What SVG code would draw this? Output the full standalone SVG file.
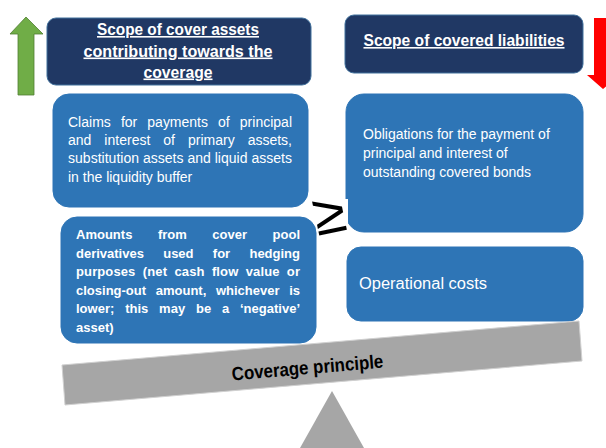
<svg xmlns="http://www.w3.org/2000/svg" width="606" height="448" viewBox="0 0 606 448">
<style>
.hdr{fill:#203864;stroke:#41719C;stroke-width:1}
.box{fill:#2E75B6;stroke:#2E75B6;stroke-width:1}
.ht{font-family:"Liberation Sans",Arial,sans-serif;font-weight:bold;font-size:16px;fill:#fff;text-anchor:middle;text-decoration:underline}
.t{font-family:"Liberation Sans",Arial,sans-serif;font-size:14px;fill:#fff}
.tb{font-family:"Liberation Sans",Arial,sans-serif;font-size:13px;font-weight:bold;fill:#fff}
.gray{fill:#A6A6A6}
</style>
<rect width="606" height="448" fill="#fff"/>
<g id="arrows">
<polygon points="26,17 43,34 34,34 34,95 18,95 18,34 10,34" fill="#70AD47" stroke="#507E32" stroke-width="0.8"/>
<polygon points="594,18 612,18 612,75 619,75 603,89 587,75 594,75" fill="#FF0000"/>
</g>
<g id="header-assets">
<rect class="hdr" x="47" y="18" width="264" height="67" rx="9"/>
<text class="ht" x="178" y="35" textLength="162" lengthAdjust="spacingAndGlyphs">Scope of cover assets</text>
<text class="ht" x="178" y="56.5" textLength="189" lengthAdjust="spacingAndGlyphs">contributing towards the</text>
<text class="ht" x="178" y="77.5" textLength="69" lengthAdjust="spacingAndGlyphs">coverage</text>
</g>
<g id="header-liabilities">
<rect class="hdr" x="345" y="15" width="238" height="58" rx="9"/>
<text class="ht" x="464" y="46" textLength="201" lengthAdjust="spacingAndGlyphs">Scope of covered liabilities</text>
</g>
<g id="claims">
<rect class="box" x="53" y="94" width="255" height="113" rx="16"/>
<text class="t" x="68" y="127" word-spacing="6.2" textLength="224" lengthAdjust="spacing">Claims for payments of principal</text>
<text class="t" x="68" y="145.2" word-spacing="9.1" textLength="224" lengthAdjust="spacing">and interest of primary assets,</text>
<text class="t" x="68" y="163.4" textLength="224" lengthAdjust="spacing">substitution assets and liquid assets</text>
<text class="t" x="68" y="181.6">in the liquidity buffer</text>
</g>
<g id="obligations">
<rect class="box" x="346" y="94" width="237" height="138" rx="18"/>
<text class="t" x="363" y="139.3">Obligations for the payment of</text>
<text class="t" x="363" y="158.3">principal and interest of</text>
<text class="t" x="363" y="177.3">outstanding covered bonds</text>
</g>
<g id="geq">
<rect x="316" y="199" width="32" height="36" fill="#fff"/>
<text x="329" y="233" font-family="Liberation Sans, Arial, sans-serif" font-size="58" fill="#000" text-anchor="middle" transform="rotate(-12 329 214)">≥</text>
</g>
<g id="amounts">
<rect class="box" x="61" y="217" width="255" height="126" rx="16"/>
<text class="tb" x="76" y="239" word-spacing="21.9" textLength="224" lengthAdjust="spacing">Amounts from cover pool</text>
<text class="tb" x="76" y="257.5" word-spacing="15.7" textLength="224" lengthAdjust="spacing">derivatives used for hedging</text>
<text class="tb" x="76" y="276" word-spacing="3.6" textLength="224" lengthAdjust="spacing">purposes (net cash flow value or</text>
<text class="tb" x="76" y="294.5" word-spacing="6" textLength="224" lengthAdjust="spacing">closing-out amount, whichever is</text>
<text class="tb" x="76" y="313" word-spacing="7.2" textLength="224" lengthAdjust="spacing">lower; this may be a ‘negative’</text>
<text class="tb" x="76" y="331.5">asset)</text>
</g>
<g id="operational">
<rect class="box" x="347" y="247" width="236" height="74" rx="14"/>
<text x="359" y="289" font-family="Liberation Sans, Arial, sans-serif" font-size="16" fill="#fff" textLength="128" lengthAdjust="spacingAndGlyphs">Operational costs</text>
</g>
<g id="beam">
<polygon class="gray" points="62,365 579,321 582,361 65,405" stroke="#D0D0D0" stroke-width="1"/>
<text x="308" y="374" font-family="Liberation Sans, Arial, sans-serif" font-size="19" font-weight="bold" fill="#000" text-anchor="middle" textLength="152" lengthAdjust="spacingAndGlyphs" transform="rotate(-4.86 308 374)">Coverage principle</text>
</g>
<g id="fulcrum">
<polygon class="gray" points="332,391 364,448 300,448"/>
</g>
</svg>
